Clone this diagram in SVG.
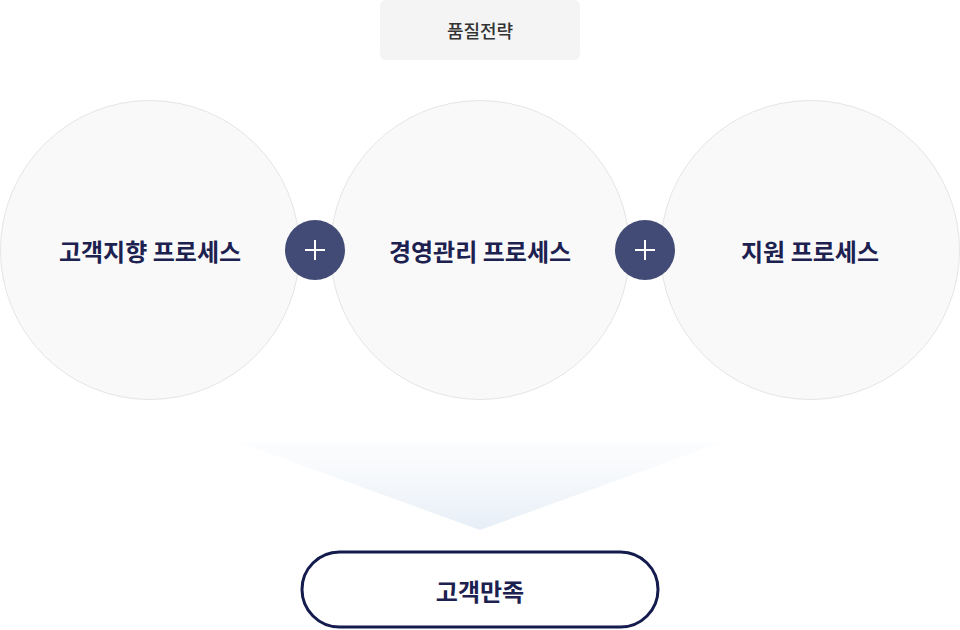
<svg xmlns="http://www.w3.org/2000/svg" width="960" height="630" viewBox="0 0 960 630">
<defs>
<style>
.t{font-family:"Noto Sans CJK KR","Noto Sans",sans-serif;text-anchor:middle;dominant-baseline:central}
.big{font-size:24px;font-weight:700;fill:#1c2150}
.circ{fill:#f9f9f9;stroke:#e5e5e5;stroke-width:1}
.plus{fill:#3a4470;fill-opacity:0.96}
.pl{stroke:#fff;stroke-width:2;stroke-linecap:butt}
</style>
<linearGradient id="tri" x1="0" y1="0" x2="0" y2="1">
<stop offset="0" stop-color="#f3f6fa" stop-opacity="0.25"/>
<stop offset="1" stop-color="#e6eef7"/>
</linearGradient>
</defs>
<rect width="960" height="630" fill="#fff"/>
<g id="strategy">
<rect x="380" y="0" width="200" height="60" rx="6" fill="#f4f4f4"/>
<text class="t" x="480" y="30" font-size="18" font-weight="500" fill="#333">품질전략</text>
</g>
<g id="p1">
<circle class="circ" cx="150" cy="250" r="149.5"/>
<text class="t big" x="150" y="250">고객지향 프로세스</text>
</g>
<g id="p2">
<circle class="circ" cx="480" cy="250" r="149.5"/>
<text class="t big" x="480" y="250">경영관리 프로세스</text>
</g>
<g id="p3">
<circle class="circ" cx="810" cy="250" r="149.5"/>
<text class="t big" x="810" y="250">지원 프로세스</text>
</g>
<g id="connectors">
<g id="plus1">
<circle class="plus" cx="315" cy="250" r="30"/>
<path class="pl" d="M305 250H325M315 240V260"/>
</g>
<g id="plus2">
<circle class="plus" cx="645" cy="250" r="30"/>
<path class="pl" d="M635 250H655M645 240V260"/>
</g>
<polygon points="240,443 720,443 480,530" fill="url(#tri)"/>
</g>
<g id="result">
<rect x="302" y="552" width="356" height="75" rx="37.5" fill="#fff" stroke="#141b4d" stroke-width="3"/>
<text class="t big" x="480" y="590">고객만족</text>
</g>
</svg>
